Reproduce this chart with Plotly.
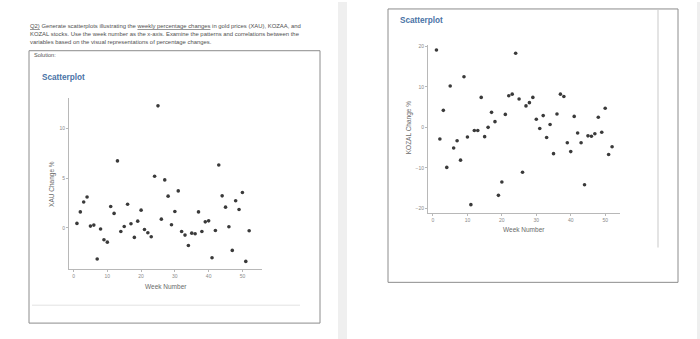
import plotly.graph_objects as go

W, H = 700, 339

weeks = list(range(1, 53))

xau_change = [0.44, 1.6, 2.6, 3.1, 0.17, 0.27, -3.15, -0.13, -1.2, -1.45,
              2.15, 1.45, 6.75, -0.37, 0.13, 2.38, 0.4, -0.97, 0.67, 1.78,
              -0.17, -0.5, -0.9, 5.2, 12.3, 0.87, 4.83, 3.19, 0.3, 1.64,
              3.72, -0.37, -0.74, -1.78, -0.54, -0.6, 1.6, -0.37, 0.6, 0.7,
              -3.02, -0.27, 6.34, 3.22, 2.08, 0.1, -2.28, 2.72, 1.85, 3.56,
              -3.39, -0.3]

kozal_change = [19.1, -2.9, 4.2, -9.9, 10.2, -5.1, -3.3, -8.1, 12.5, -2.4,
                -19.1, -0.8, -0.8, 7.4, -2.3, 0.0, 3.7, 1.4, -16.8, -13.5,
                3.2, 7.8, 8.2, 18.3, 7.0, -11.1, 5.3, 6.1, 7.4, 2.0,
                -0.3, 2.9, -2.5, 0.7, -6.5, 3.3, 8.2, 7.6, -3.8, -6.0,
                2.7, -1.4, -3.8, -14.2, -2.1, -2.2, -1.6, 2.5, -1.2, 4.7,
                -6.7, -4.8]

week_ticks = [0, 10, 20, 30, 40, 50]
xau_ticks = [0, 5, 10]
kozal_ticks = [-20, -10, 0, 10, 20]

question_lines = [
    '<span style="text-decoration:underline">Q2)</span> Generate scatterplots illustrating the '
    '<span style="text-decoration:underline">weekly percentage changes</span> in gold prices (XAU), KOZAA, and',
    'KOZAL stocks. Use the week number as the x-axis. Examine the patterns and correlations between the',
    'variables based on the visual representations of percentage changes.',
]


def px(x):
    return x / W


def py(y):
    return 1 - y / H


FONT = "Liberation Sans"
DOT = "#3a3a3a"
AXIS = "#b8b8b8"
TICKTXT = "#8a8a8a"

fig = go.Figure()

fig.add_trace(go.Scatter(x=weeks, y=xau_change, mode="markers",
                         marker=dict(size=3.6, color=DOT), xaxis="x", yaxis="y",
                         showlegend=False, hoverinfo="x+y"))
fig.add_trace(go.Scatter(x=weeks, y=kozal_change, mode="markers",
                         marker=dict(size=3.6, color=DOT), xaxis="x2", yaxis="y2",
                         showlegend=False, hoverinfo="x+y"))

axis_common = dict(showline=True, linecolor=AXIS, linewidth=1, showgrid=False,
                   zeroline=False, ticks="outside", ticklen=2, tickcolor=AXIS,
                   tickfont=dict(family=FONT, size=5, color=TICKTXT), fixedrange=True)

fig.update_layout(
    width=W, height=H,
    margin=dict(l=0, r=0, t=0, b=0),
    paper_bgcolor="white", plot_bgcolor="white",
    xaxis=dict(domain=[px(69), px(262)], range=[-1.35, 55.8], tickvals=week_ticks,
               anchor="y", **axis_common),
    yaxis=dict(domain=[py(269), py(97)], range=[-4.2, 13.05], tickvals=xau_ticks,
               anchor="x", **axis_common),
    xaxis2=dict(domain=[px(428), px(620)], range=[-1.45, 54.3], tickvals=week_ticks,
                anchor="y2", **axis_common),
    yaxis2=dict(domain=[py(212), py(43)], range=[-21.1, 20.4], tickvals=kozal_ticks,
                anchor="x2", **axis_common),
)

shapes = [
    # side strips of the page viewer
    dict(type="rect", x0=px(338), x1=px(347), y0=0, y1=1, fillcolor="#efefef", line_width=0),
    dict(type="rect", x0=px(697), x1=1, y0=0, y1=1, fillcolor="#efefef", line_width=0),
    # solution box
    dict(type="rect", x0=px(29), x1=px(320), y0=py(323), y1=py(49),
         line=dict(color="#8c8c8c", width=1)),
    dict(type="line", x0=px(32), x1=px(300), y0=py(305), y1=py(305),
         line=dict(color="#e2e2e2", width=1)),
    # second chart frame
    dict(type="rect", x0=px(388), x1=px(678), y0=py(282), y1=py(7),
         line=dict(color="#8c8c8c", width=1)),
    dict(type="line", x0=px(658), x1=px(658), y0=py(247), y1=py(8),
         line=dict(color="#e4e4e4", width=2)),
]
for s in shapes:
    s.update(xref="paper", yref="paper", layer="below")
fig.update_layout(shapes=shapes)

ann = []
for i, line in enumerate(question_lines):
    ann.append(dict(text=line, x=px(28), y=py(24 + 8 * i), xanchor="left", yanchor="middle",
                    font=dict(family=FONT, size=5.9, color="#505050")))
ann.append(dict(text="Solution:", x=px(32), y=py(53), xanchor="left", yanchor="middle",
                font=dict(family=FONT, size=5.6, color="#505050")))

title_font = dict(family=FONT, size=8.2, color="#4a73a6")
ann.append(dict(text="<b>Scatterplot</b>", x=px(40), y=py(76), xanchor="left", yanchor="middle",
                font=title_font))
ann.append(dict(text="<b>Scatterplot</b>", x=px(398), y=py(19), xanchor="left", yanchor="middle",
                font=title_font))

label_font = dict(family=FONT, size=6.5, color="#6a6a6a")
ann.append(dict(text="XAU Change %", x=px(52), y=py(183), textangle=-90,
                xanchor="center", yanchor="middle", font=label_font))
ann.append(dict(text="Week Number", x=px(166), y=py(286), xanchor="center", yanchor="middle",
                font=label_font))
ann.append(dict(text="KOZAL Change %", x=px(409), y=py(127), textangle=-90,
                xanchor="center", yanchor="middle", font=label_font))
ann.append(dict(text="Week Number", x=px(524), y=py(229), xanchor="center", yanchor="middle",
                font=label_font))
for a in ann:
    a.update(xref="paper", yref="paper", showarrow=False)
fig.update_layout(annotations=ann)

fig.write_html("out.html")
